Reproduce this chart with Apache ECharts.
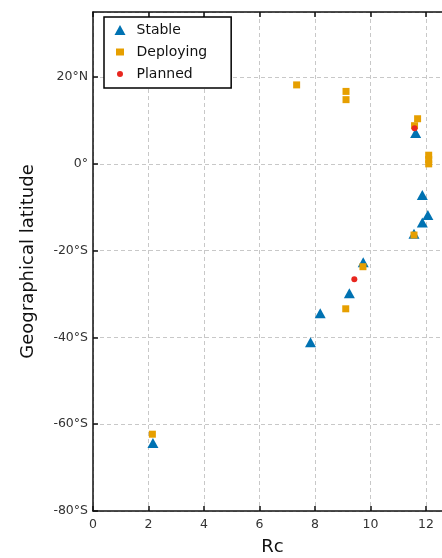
<!DOCTYPE html>
<html>
<head>
<meta charset="utf-8">
<title>Rc vs latitude</title>
<script src="https://cdn.jsdelivr.net/npm/echarts@6/dist/echarts.min.js"></script>
<style>
  html, body { margin: 0; padding: 0; background: #fff; }
  #chart { width: 442px; height: 558px; }
</style>
</head>
<body>
<div id="chart"></div>
<script>
// 数据：[Rc, 纬度]
var stablePoints = [
  [2.16, -64.3], [7.84, -41.1], [8.19, -34.4], [9.24, -29.8], [9.74, -22.7],
  [11.57, -16.1], [11.87, -13.5], [12.07, -11.8], [11.87, -7.2], [11.63, 7.1]
];
var deployingPoints = [
  [2.14, -62.3], [9.11, -33.4], [9.73, -23.7], [11.57, -16.4],
  [7.34, 18.2], [9.12, 16.7], [9.12, 14.8], [11.70, 10.4], [11.59, 8.8],
  [12.10, 2.0], [12.10, 1.0], [12.10, 0.0]
];
var plannedPoints = [
  [9.42, -26.6], [11.59, 8.2]
];
var seriesNames = ['Stable', 'Deploying', 'Planned'];
var xTicks = [0, 2, 4, 6, 8, 10, 12];
var yTicks = [-80, -60, -40, -20, 0, 20];

var font = 'DejaVu Sans, sans-serif';
var colors = { Stable: '#0072B2', Deploying: '#E69F00', Planned: '#E8261F' };

function latLabel(v) {
  if (v > 0) return v + '°N';
  if (v === 0) return '0°';
  return v + '°S';
}

var chart = echarts.init(document.getElementById('chart'), null, { renderer: 'canvas' });

var option = {
  animation: false,
  backgroundColor: '#fff',
  grid: { left: 93, right: -10, top: 12, bottom: 47, containLabel: false, outerBoundsMode: 'none' },
  legend: {
    orient: 'vertical',
    left: 104,
    top: 17,
    padding: [6, 24, 7, 9],
    itemWidth: 11,
    itemHeight: 10,
    itemGap: 8,
    symbolKeepAspect: true,
    backgroundColor: '#fff',
    borderColor: '#000',
    borderWidth: 1.5,
    borderRadius: 0,
    z: 10,
    textStyle: { fontFamily: font, fontSize: 14, color: '#111', padding: [0, 0, 0, 6] },
    data: [
      { name: 'Stable', icon: 'triangle', itemStyle: { color: colors.Stable, borderWidth: 0 } },
      { name: 'Deploying', icon: 'rect', itemStyle: { color: colors.Deploying, borderColor: '#fff', borderWidth: 3 } },
      { name: 'Planned', icon: 'circle', itemStyle: { color: colors.Planned, borderColor: '#fff', borderWidth: 4 } }
    ]
  },
  xAxis: [{
    type: 'value',
    position: 'bottom',
    min: xTicks[0],
    max: 12.94,
    interval: 2,
    name: 'Rc',
    nameLocation: 'middle',
    nameGap: 27,
    nameTextStyle: { fontFamily: font, fontSize: 18, color: '#111' },
    axisLine: { show: true, onZero: false, lineStyle: { color: '#111', width: 1.5 } },
    axisTick: { show: true, inside: true, length: 5, lineStyle: { color: '#111', width: 1.5 } },
    axisLabel: {
      fontFamily: font, fontSize: 12.5, color: '#333', margin: 7, showMaxLabel: false,
      formatter: function (v) { return xTicks.indexOf(v) >= 0 ? String(v) : ''; }
    },
    splitLine: { show: true, lineStyle: { color: '#c8c8c8', type: [4, 3], width: 1 } }
  }, {
    type: 'value',
    position: 'top',
    min: xTicks[0],
    max: 12.94,
    interval: 2,
    axisLine: { show: true, onZero: false, lineStyle: { color: '#111', width: 1.5 } },
    axisTick: { show: true, inside: true, length: 5, lineStyle: { color: '#111', width: 1.5 } },
    axisLabel: { show: false },
    splitLine: { show: false }
  }],
  yAxis: {
    type: 'value',
    min: yTicks[0],
    max: 35,
    interval: 20,
    name: 'Geographical latitude',
    nameLocation: 'middle',
    nameGap: 56,
    nameTextStyle: { fontFamily: font, fontSize: 18, color: '#111' },
    axisLine: { show: true, onZero: false, lineStyle: { color: '#111', width: 1.5 } },
    axisTick: { show: true, inside: true, length: 5, lineStyle: { color: '#111', width: 1.5 } },
    axisLabel: {
      fontFamily: font, fontSize: 12.5, color: '#333', margin: 5, showMaxLabel: false,
      formatter: function (v) { return yTicks.indexOf(v) >= 0 ? latLabel(v) : ''; }
    },
    splitLine: { show: true, lineStyle: { color: '#c8c8c8', type: [4, 3], width: 1 } }
  },
  series: [{
    name: seriesNames[0],
    type: 'scatter',
    symbol: 'triangle',
    symbolSize: [11, 10],
    itemStyle: { color: colors.Stable, opacity: 1 },
    data: stablePoints
  }, {
    name: seriesNames[1],
    type: 'scatter',
    symbol: 'rect',
    symbolSize: 7,
    itemStyle: { color: colors.Deploying, opacity: 1 },
    data: deployingPoints
  }, {
    name: seriesNames[2],
    type: 'scatter',
    symbol: 'circle',
    symbolSize: 6,
    itemStyle: { color: colors.Planned, opacity: 1 },
    data: plannedPoints
  }]
};

chart.setOption(option);
</script>
</body>
</html>
